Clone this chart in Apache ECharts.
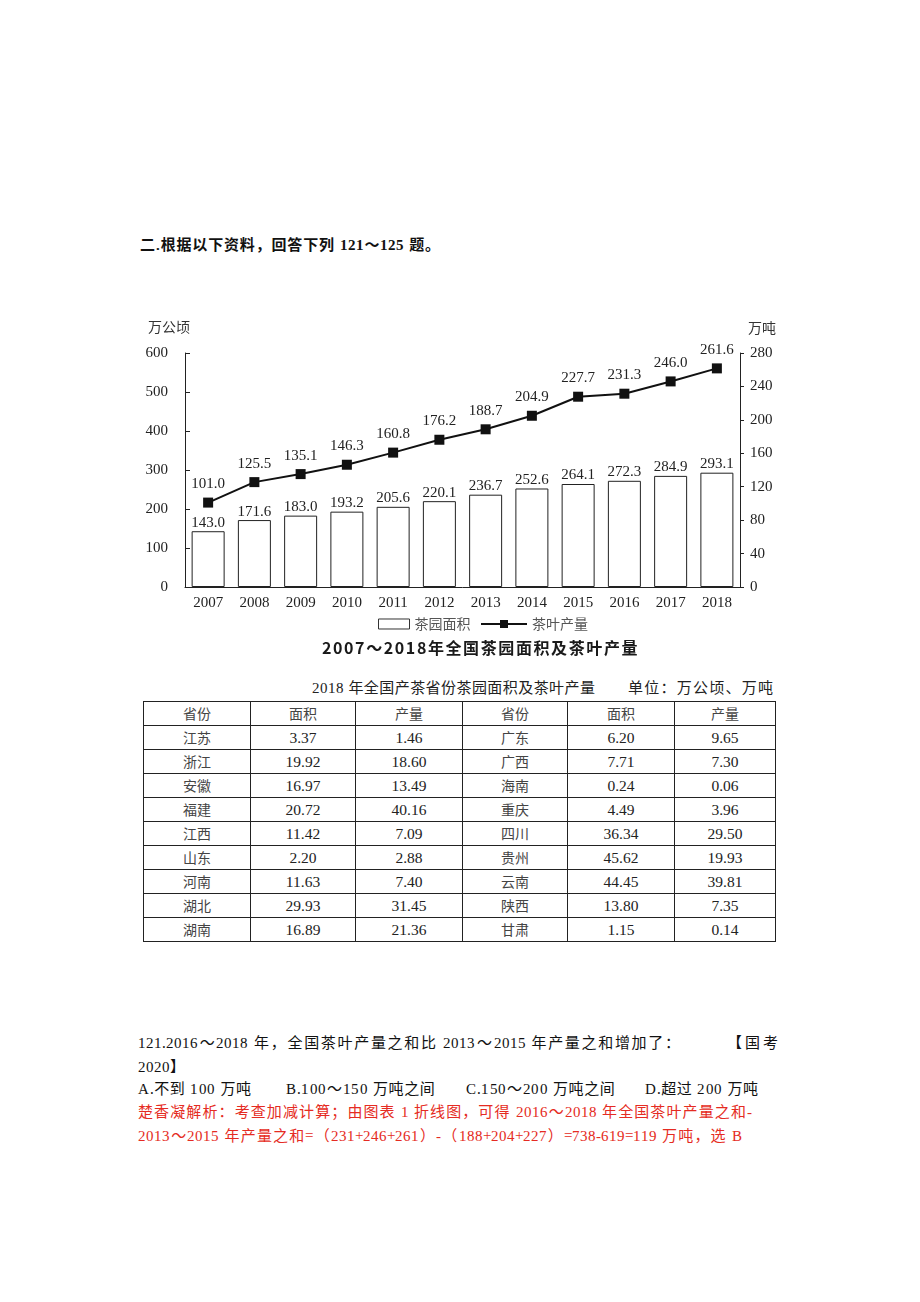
<!DOCTYPE html>
<html>
<head>
<meta charset="utf-8">
<script src="https://cdn.jsdelivr.net/npm/echarts@6/dist/echarts.min.js"></script>
<style>
  @font-face { font-family: "DocLatin"; src: local("Liberation Serif"), local("LiberationSerif"); font-weight: normal; unicode-range: U+0000-00FF; }
  @font-face { font-family: "DocLatin"; src: local("Liberation Serif Bold"), local("LiberationSerif-Bold"); font-weight: bold; unicode-range: U+0000-00FF; }
  html, body { margin: 0; padding: 0; background: #fff; }
  #page { position: relative; width: 920px; height: 1302px; overflow: hidden; font-family: "Noto Sans CJK SC", sans-serif; color: #111; }
  .abs { position: absolute; white-space: nowrap; }
  .jl { text-align: justify; text-align-last: justify; }
  #chart { position: absolute; left: 0; top: 300px; width: 920px; height: 370px; }
  table { position: absolute; left: 143px; top: 701px; border-collapse: collapse; table-layout: fixed; }
  td { border: 1px solid #222; height: 23px; padding: 0; text-align: center; font-size: 14px; line-height: 23px; }
  td.cn { font-family: "Noto Sans CJK SC", sans-serif; color: #444; }
  td.num { font-family: "Liberation Serif", serif; color: #222; font-size: 15.5px; }
  .doc { font-family: "DocLatin", "Noto Sans CJK SC", serif; font-size: 15px; line-height: 24px; }
  .q { color: #111; }
  .opt { letter-spacing: 0.6px; }
  .red { color: #e52b22; }
  .cap { font-family: "DocLatin", "Noto Sans CJK SC", serif; font-size: 15px; line-height: 22px; color: #222; }
</style>
</head>
<body>
<div id="page">
  <div class="abs doc jl" style="left:140px; top:233px; width:300px; font-weight:bold;">二.根据以下资料，回答下列 121～125 题。</div>
  <div id="chart"></div>
  <div class="abs" style="left:322px; top:636px; font-size:16px; line-height:22px; font-weight:bold; letter-spacing:1.6px; color:#1a1a1a;">2007～2018年全国茶园面积及茶叶产量</div>
  <div class="abs cap jl" style="left:312px; top:677px; width:283px;">2018 年全国产茶省份茶园面积及茶叶产量</div>
  <div class="abs cap jl" style="left:628px; top:677px; width:145px;">单位：万公顷、万吨</div>
  <table id="tbl"></table>
  <div class="abs doc q jl" style="left:138px; top:1031px; width:542px;">121.2016～2018 年，全国茶叶产量之和比 2013～2015 年产量之和增加了：</div>
  <div class="abs doc q jl" style="left:727px; top:1031px; width:51px;">【国考</div>
  <div class="abs doc q" style="left:138px; top:1055px;">2020】</div>
  <div class="abs doc q opt" style="left:138px; top:1077px;">A.不到 100 万吨</div>
  <div class="abs doc q opt" style="left:286px; top:1077px;">B.100～150 万吨之间</div>
  <div class="abs doc q opt" style="left:466px; top:1077px;">C.150～200 万吨之间</div>
  <div class="abs doc q opt" style="left:645px; top:1077px;">D.超过 200 万吨</div>
  <div class="abs doc red jl" style="left:138px; top:1100px; width:614px;">楚香凝解析：考查加减计算；由图表 1 折线图，可得 2016～2018 年全国茶叶产量之和-</div>
  <div class="abs doc red jl" style="left:138px; top:1124px; width:604px;">2013～2015 年产量之和=（231+246+261）-（188+204+227）=738-619=119 万吨，选 B</div>
</div>
<script>
const years = ['2007','2008','2009','2010','2011','2012','2013','2014','2015','2016','2017','2018'];
const gardenArea = [143.0,171.6,183.0,193.2,205.6,220.1,236.7,252.6,264.1,272.3,284.9,293.1];
const teaOutput = [101.0,125.5,135.1,146.3,160.8,176.2,188.7,204.9,227.7,231.3,246.0,261.6];

const tableHeader = ['省份','面积','产量','省份','面积','产量'];
const provincesLeft = ['江苏','浙江','安徽','福建','江西','山东','河南','湖北','湖南'];
const areaLeft = [3.37,19.92,16.97,20.72,11.42,2.20,11.63,29.93,16.89];
const outputLeft = [1.46,18.60,13.49,40.16,7.09,2.88,7.40,31.45,21.36];
const provincesRight = ['广东','广西','海南','重庆','四川','贵州','云南','陕西','甘肃'];
const areaRight = [6.20,7.71,0.24,4.49,36.34,45.62,44.45,13.80,1.15];
const outputRight = [9.65,7.30,0.06,3.96,29.50,19.93,39.81,7.35,0.14];

// table
(function () {
  const widths = [107,105,107,105,107,101];
  const tbl = document.getElementById('tbl');
  let html = '<colgroup>' + widths.map(w => '<col style="width:' + w + 'px">').join('') + '</colgroup>';
  html += '<tr>' + tableHeader.map(h => '<td class="cn">' + h + '</td>').join('') + '</tr>';
  for (let i = 0; i < provincesLeft.length; i++) {
    html += '<tr><td class="cn">' + provincesLeft[i] + '</td><td class="num">' + areaLeft[i].toFixed(2) +
      '</td><td class="num">' + outputLeft[i].toFixed(2) + '</td><td class="cn">' + provincesRight[i] +
      '</td><td class="num">' + areaRight[i].toFixed(2) + '</td><td class="num">' + outputRight[i].toFixed(2) + '</td></tr>';
  }
  tbl.innerHTML = html;
})();

const serif = '"Liberation Serif", "DejaVu Serif", serif';
const cjk = '"Noto Sans CJK SC", sans-serif';
const legendText = { fontFamily: cjk, fontSize: 14, color: '#555' };
const chart = echarts.init(document.getElementById('chart'), null, { renderer: 'canvas' });
chart.setOption({
  animation: false,
  legend: [
    {
      top: 317, left: 378, itemWidth: 31, itemHeight: 10, itemGap: 10, padding: 0,
      textStyle: legendText,
      data: [{ name: '茶园面积', icon: 'rect', itemStyle: { color: '#fff', borderColor: '#333', borderWidth: 1 } }]
    },
    {
      top: 317, left: 480, itemWidth: 46, itemHeight: 10, itemGap: 10, padding: 0,
      textStyle: legendText,
      data: [{ name: '茶叶产量' }]
    }
  ],
  graphic: [
    { type: 'text', left: 148, top: 20, style: { text: '万公顷', font: '14px "Noto Sans CJK SC"', fill: '#333' } },
    { type: 'text', left: 748, top: 21, style: { text: '万吨', font: '14px "Noto Sans CJK SC"', fill: '#333' } }
  ],
  grid: { left: 185, right: 180, top: 53, bottom: 83 },
  xAxis: {
    type: 'category', data: years,
    axisLine: { lineStyle: { color: '#222', width: 1 } },
    axisTick: { show: false },
    axisLabel: { interval: 0, margin: 9, fontFamily: serif, fontSize: 15, color: '#222' }
  },
  yAxis: [
    {
      type: 'value', min: 0, max: 600, interval: 100, position: 'left',
      splitLine: { show: false },
      axisLine: { show: true, lineStyle: { color: '#222' } },
      axisTick: { show: true, inside: true, length: 5, lineStyle: { color: '#222' } },
      axisLabel: { margin: 17, fontFamily: serif, fontSize: 15, color: '#222' }
    },
    {
      type: 'value', min: 0, max: 280, interval: 40, position: 'right',
      splitLine: { show: false },
      axisLine: { show: true, lineStyle: { color: '#222' } },
      axisTick: { show: true, inside: false, length: 4, lineStyle: { color: '#222' } },
      axisLabel: { margin: 10, fontFamily: serif, fontSize: 15, color: '#222' }
    }
  ],
  series: [
    {
      name: '茶园面积', type: 'bar', yAxisIndex: 0, data: gardenArea, barWidth: 33,
      itemStyle: { color: '#fff', borderColor: '#222', borderWidth: 1 },
      label: { show: true, position: 'top', distance: 1, fontFamily: serif, fontSize: 15, color: '#222',
        formatter: p => p.value.toFixed(1) }
    },
    {
      name: '茶叶产量', type: 'line', yAxisIndex: 1, data: teaOutput,
      symbol: 'rect', symbolSize: 10, color: '#111',
      lineStyle: { color: '#111', width: 2 },
      itemStyle: { color: '#111' },
      label: { show: true, position: 'top', distance: 6, fontFamily: serif, fontSize: 15, color: '#222',
        formatter: p => p.value.toFixed(1) }
    }
  ]
});
</script>
</body>
</html>
